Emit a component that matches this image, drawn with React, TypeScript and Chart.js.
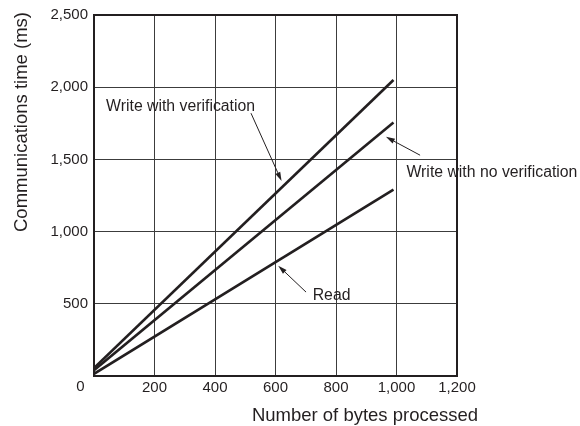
import { useEffect, useRef } from 'react';
import { Chart, registerables } from 'chart.js';

Chart.register(...registerables);

// ---- data ----
const seriesNames = ['Write with verification', 'Write with no verification', 'Read'];
const bytes = [0, 990];
const writeVerify = [55, 2050];
const writeNoVerify = [40, 1755];
const readTime = [15, 1290];

const xMin = 0;
const xMax = 1200;
const xStep = 200;
const yMin = 0;
const yMax = 2500;
const yStep = 500;
const cornerLabel = '0';

const xTitle = 'Number of bytes processed';
const yTitle = 'Communications time (ms)';

// callouts in data units: label (left, baseline), arrow start, arrow tip
const calloutLabelAt = [[40, 1832], [1033, 1379], [723, 528]];
const calloutArrowFrom = [[519, 1820], [1078, 1529], [701, 581]];
const calloutArrowTip = [[620, 1350], [965, 1656], [609, 764]];

const INK = '#231f20';
const GRID = '#3c3c3c';
const FONT = '"Liberation Sans", Arial, Helvetica, sans-serif';

const fmt = (v: number) => v.toLocaleString('en-US');

const overlayPlugin = {
  id: 'overlay',
  afterDraw(chart: any) {
    const { ctx, chartArea, scales } = chart;
    const xs = scales.x;
    const ys = scales.y;
    ctx.save();
    // frame
    ctx.strokeStyle = INK;
    ctx.lineWidth = 2;
    ctx.strokeRect(chartArea.left, chartArea.top, chartArea.right - chartArea.left, chartArea.bottom - chartArea.top);

    ctx.fillStyle = INK;
    // corner "0"
    ctx.font = `15px ${FONT}`;
    ctx.textAlign = 'center';
    ctx.textBaseline = 'middle';
    ctx.fillText(cornerLabel, xs.getPixelForValue(0) - 13.5, chartArea.bottom + 10.5);

    // axis titles
    ctx.font = `18.5px ${FONT}`;
    ctx.textAlign = 'center';
    ctx.textBaseline = 'alphabetic';
    ctx.fillText(xTitle, chartArea.left + 271, chartArea.bottom + 45);
    ctx.save();
    ctx.translate(27, chartArea.top + 107);
    ctx.rotate(-Math.PI / 2);
    ctx.fillText(yTitle, 0, 0);
    ctx.restore();

    // callouts
    ctx.font = `15.8px ${FONT}`;
    ctx.textAlign = 'left';
    ctx.textBaseline = 'alphabetic';
    seriesNames.forEach((name, i) => {
      const lx = xs.getPixelForValue(calloutLabelAt[i][0]);
      const ly = ys.getPixelForValue(calloutLabelAt[i][1]);
      ctx.fillText(name, lx, ly);
      const fx = xs.getPixelForValue(calloutArrowFrom[i][0]);
      const fy = ys.getPixelForValue(calloutArrowFrom[i][1]);
      const tx = xs.getPixelForValue(calloutArrowTip[i][0]);
      const ty = ys.getPixelForValue(calloutArrowTip[i][1]);
      const ang = Math.atan2(ty - fy, tx - fx);
      const hl = 9;
      const hw = 2.6;
      const bx = tx - hl * Math.cos(ang);
      const by = ty - hl * Math.sin(ang);
      ctx.strokeStyle = INK;
      ctx.lineWidth = 1;
      ctx.beginPath();
      ctx.moveTo(fx, fy);
      ctx.lineTo(bx, by);
      ctx.stroke();
      ctx.beginPath();
      ctx.moveTo(tx, ty);
      ctx.lineTo(bx + hw * Math.sin(ang), by - hw * Math.cos(ang));
      ctx.lineTo(bx - hw * Math.sin(ang), by + hw * Math.cos(ang));
      ctx.closePath();
      ctx.fill();
    });
    ctx.restore();
  },
};

export default function App() {
  const ref = useRef<HTMLCanvasElement | null>(null);
  useEffect(() => {
    if (!ref.current) return;
    const mk = (ys: number[]) => bytes.map((x, i) => ({ x, y: ys[i] }));
    const line = (label: string, ys: number[]) => ({
      label,
      data: mk(ys),
      borderColor: INK,
      borderWidth: 2.6,
      pointRadius: 0,
      fill: false,
      tension: 0,
    });
    const chart = new Chart(ref.current, {
      type: 'line',
      data: {
        datasets: [
          line(seriesNames[0], writeVerify),
          line(seriesNames[1], writeNoVerify),
          line(seriesNames[2], readTime),
        ],
      },
      options: {
        animation: false,
        responsive: false,
        devicePixelRatio: 1,
        layout: { padding: { top: 13, right: 123, left: 0, bottom: 0 } },
        plugins: { legend: { display: false }, tooltip: { enabled: false }, title: { display: false } },
        scales: {
          x: {
            type: 'linear',
            min: xMin,
            max: xMax,
            afterFit: (s: any) => { s.height = 50; },
            border: { display: false },
            grid: { color: GRID, lineWidth: 1, drawTicks: false },
            ticks: {
              stepSize: xStep,
              padding: 3,
              color: INK,
              font: { family: FONT, size: 15 },
              maxRotation: 0,
              callback: (v: any) => (v === 0 ? '' : fmt(v)),
            },
          },
          y: {
            type: 'linear',
            min: yMin,
            max: yMax,
            afterFit: (s: any) => { s.width = 94; },
            border: { display: false },
            grid: { color: GRID, lineWidth: 1, drawTicks: false },
            ticks: {
              stepSize: yStep,
              padding: 6,
              color: INK,
              font: { family: FONT, size: 15 },
              callback: (v: any) => (v === 0 ? '' : fmt(v)),
            },
          },
        },
      },
      plugins: [overlayPlugin],
    });
    return () => chart.destroy();
  }, []);
  return (
    <div style={{ position: 'absolute', left: 0, top: 0, width: 580, height: 426, background: '#fff' }}>
      <canvas ref={ref} width={580} height={426} style={{ display: 'block' }} />
    </div>
  );
}
